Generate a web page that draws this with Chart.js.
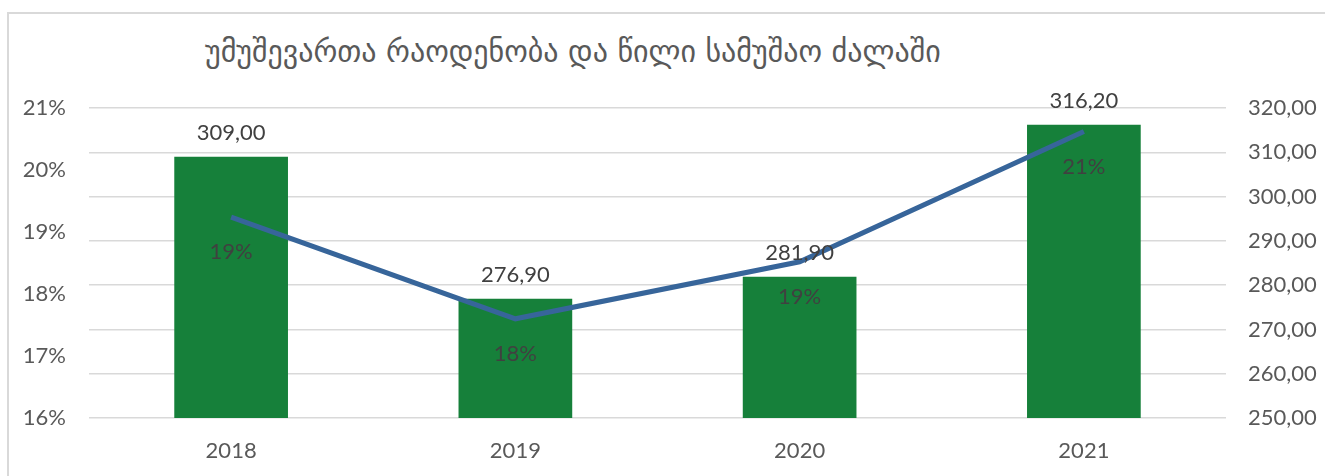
<!DOCTYPE html>
<html>
<head>
<meta charset="utf-8">
<script src="https://cdn.jsdelivr.net/npm/chart.js@4/dist/chart.umd.min.js"></script>
<style>
  html, body { margin: 0; padding: 0; background: #fff; }
  #wrap { position: relative; width: 1325px; height: 476px; overflow: hidden; }
  #frame { position: absolute; left: 7px; top: 12px; width: 1400px; height: 500px;
           border-top: 2px solid #d9d9d9; border-left: 2px solid #d9d9d9; }
  #title { position: absolute; left: 205px; top: 34px; font-family: "DejaVu Sans", sans-serif;
           font-size: 30px; color: #595959; white-space: nowrap; }
  canvas { position: absolute; left: 0; top: 0; }
</style>
</head>
<body>
<div id="wrap">
  <div id="frame"></div>
  <div id="title">უმუშევართა რაოდენობა და წილი სამუშაო ძალაში</div>
  <canvas id="chart" width="1325" height="476"></canvas>
</div>
<script>
var years = ["2018", "2019", "2020", "2021"];
var unemployed = [309.0, 276.9, 281.9, 316.2];      // thousand, right axis
var unemploymentRate = [0.1924, 0.176, 0.1852, 0.2062]; // left axis

var textColor = "#595959";
var labelColor = "#404040";
var font = "Lato";

function pct(v) { return Math.round(v * 100) + "%"; }
function num(v) { return v.toFixed(2).replace(".", ","); }

// draws the value labels, since only Chart.js itself is available
var valueLabels = {
    id: "valueLabels",
    afterDatasetsDraw: function(chart) {
        var ctx = chart.ctx;
        ctx.save();
        ctx.font = "22px " + font;
        ctx.fillStyle = labelColor;
        ctx.textAlign = "center";
        ctx.textBaseline = "middle";
        chart.getDatasetMeta(1).data.forEach(function(bar, i) {
            ctx.fillText(num(unemployed[i]), bar.x, bar.y - 24);
        });
        chart.getDatasetMeta(0).data.forEach(function(pt, i) {
            ctx.fillText(pct(unemploymentRate[i]), pt.x, pt.y + 35);
        });
        ctx.restore();
    }
};

new Chart(document.getElementById("chart"), {
    type: "bar",
    data: {
        labels: years,
        datasets: [{
            type: "line",
            data: unemploymentRate,
            yAxisID: "y",
            borderColor: "#37659a",
            borderWidth: 5,
            pointRadius: 0,
            tension: 0,
            order: 0
        }, {
            type: "bar",
            data: unemployed,
            yAxisID: "y1",
            backgroundColor: "#16803a",
            barPercentage: 0.4,
            categoryPercentage: 1,
            order: 1
        }]
    },
    options: {
        responsive: false,
        animation: false,
        layout: { padding: { top: 108, left: 0, right: 0, bottom: 0 } },
        plugins: { legend: { display: false }, tooltip: { enabled: false } },
        scales: {
            x: {
                grid: { display: false, drawTicks: false },
                border: { display: false },
                ticks: { color: textColor, font: { family: font, size: 22 }, padding: 20 },
                afterFit: function(s) { s.height = 58; }
            },
            y: {
                position: "left",
                min: 0.16, max: 0.21,
                grid: { display: false, drawTicks: false },
                border: { display: false },
                ticks: { stepSize: 0.01, color: textColor, font: { family: font, size: 22 },
                         padding: 23, callback: function(v) { return pct(v); } },
                afterFit: function(s) { s.width = 89; }
            },
            y1: {
                position: "right",
                min: 250, max: 320,
                grid: { color: "#d9d9d9", lineWidth: 1.5, drawTicks: false },
                border: { display: false },
                ticks: { stepSize: 10, color: textColor, font: { family: font, size: 22 },
                         padding: 22, callback: function(v) { return num(v); } },
                afterFit: function(s) { s.width = 99; }
            }
        }
    },
    plugins: [valueLabels]
});
</script>
</body>
</html>
